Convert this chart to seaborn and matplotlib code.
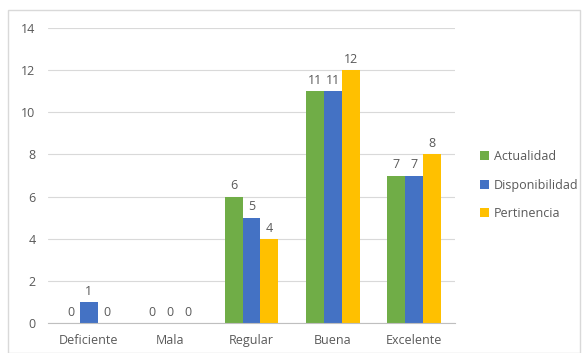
import matplotlib
matplotlib.use("Agg")
import matplotlib.pyplot as plt
import numpy as np
import pandas as pd
import seaborn as sns
from matplotlib.patches import Rectangle

categories = ["Deficiente", "Mala", "Regular", "Buena", "Excelente"]
actualidad = [0, 0, 6, 11, 7]
disponibilidad = [1, 0, 5, 11, 7]
pertinencia = [0, 0, 4, 12, 8]
series = ["Actualidad", "Disponibilidad", "Pertinencia"]
colors = ["#70AD47", "#4472C4", "#FFC000"]

df = pd.DataFrame({
    "categoria": categories * 3,
    "valor": actualidad + disponibilidad + pertinencia,
    "serie": [s for s in series for _ in categories],
})

sns.set_style("white")
plt.rcParams["font.family"] = ["Open Sans", "DejaVu Sans"]
text_col = "#595959"

fig = plt.figure(figsize=(5.87, 3.53), dpi=100)
ax = fig.add_axes([48 / 587, 1 - 323 / 353, (455 - 48) / 587, (323 - 28) / 353])

sns.barplot(data=df, x="categoria", y="valor", hue="serie", palette=colors,
            width=0.66, ax=ax, saturation=1, edgecolor="none")

for cont in ax.containers:
    ax.bar_label(cont, padding=3, fontsize=9, color=text_col)

ax.set_ylim(0, 14)
ax.set_yticks(range(0, 15, 2))
ax.set_xlim(-0.5, 4.5)
ax.yaxis.grid(True, color="#D9D9D9", linewidth=0.8)
ax.set_axisbelow(True)
ax.set_xlabel("")
ax.set_ylabel("")
for s in ["top", "right", "left"]:
    ax.spines[s].set_visible(False)
ax.spines["bottom"].set_color("#BFBFBF")
ax.set_xticks(np.arange(-0.5, 5, 1), minor=True)
ax.tick_params(axis="x", which="minor", length=5, color="#BFBFBF", width=0.8)
ax.tick_params(axis="x", which="major", length=0, pad=8, labelsize=9, labelcolor=text_col)
ax.tick_params(axis="y", length=0, pad=9, labelsize=9, labelcolor=text_col)

ax.legend(loc="center left", bbox_to_anchor=(469 / 587, 1 - 185 / 353),
          bbox_transform=fig.transFigure, frameon=False, fontsize=9,
          handlelength=0.7, handleheight=0.7, handletextpad=0.4,
          labelspacing=1.25, labelcolor=text_col)

fig.patches.append(Rectangle((8 / 587, 0), 572 / 587, 1 - 10 / 353, transform=fig.transFigure,
                             fill=False, edgecolor="#D9D9D9", linewidth=1))

fig.savefig("out.png", dpi=100)
